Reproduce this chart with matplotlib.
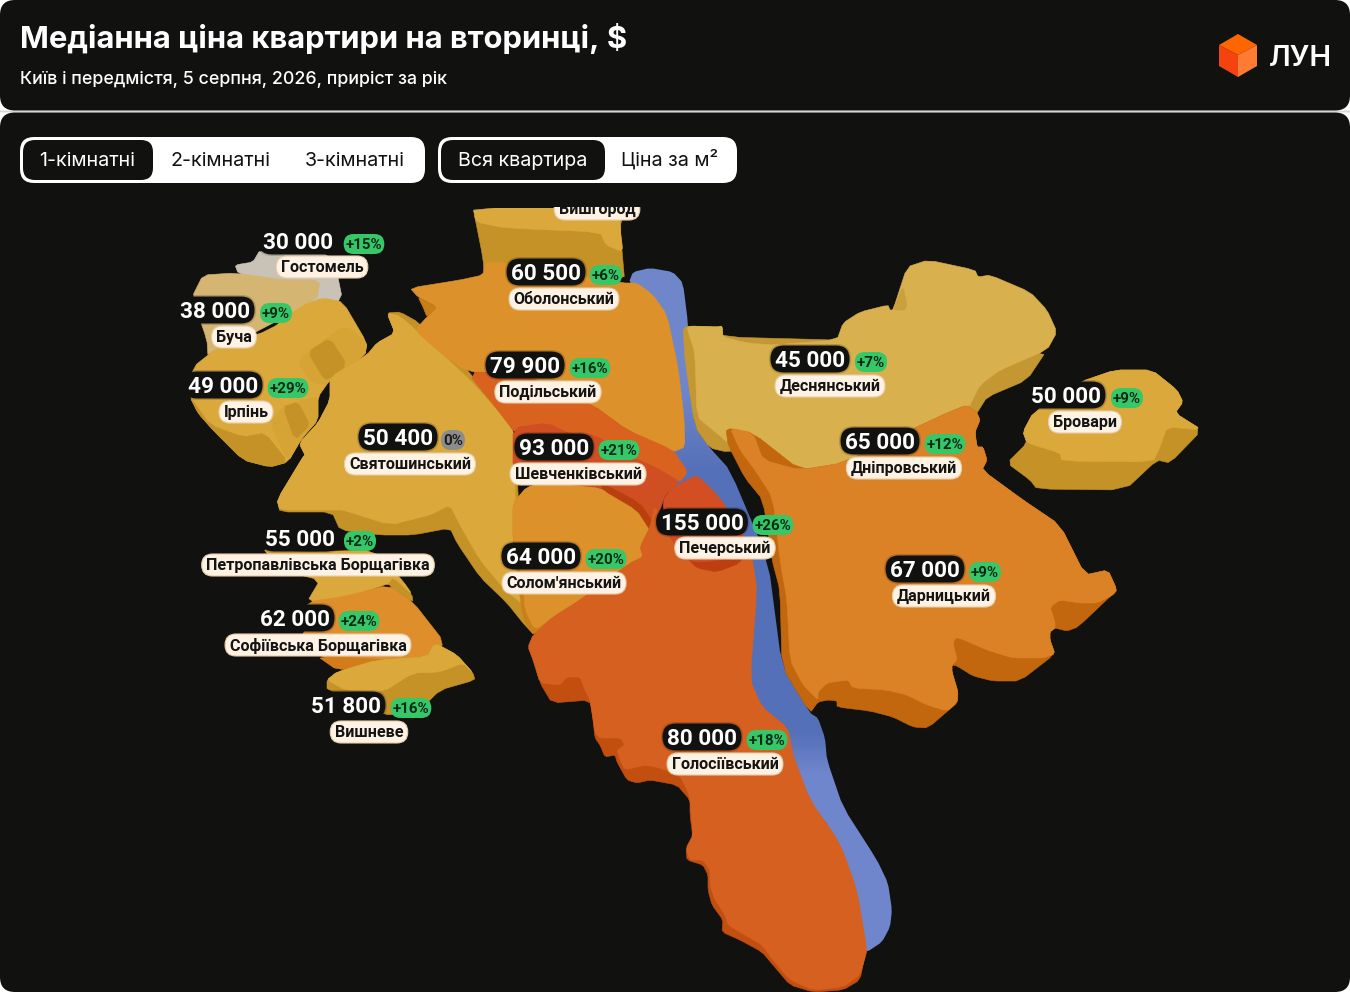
import matplotlib
matplotlib.use("Agg")
import numpy as np
import matplotlib.pyplot as plt
from matplotlib.patches import FancyBboxPatch, Polygon, Rectangle
from matplotlib.colors import LinearSegmentedColormap

# ---------- data ----------
names = ["Гостомель", "Буча", "Ірпінь", "Святошинський", "Оболонський", "Подільський",
         "Шевченківський", "Деснянський", "Дніпровський", "Бровари", "Печерський",
         "Дарницький", "Солом'янський", "Петропавлівська Борщагівка",
         "Софіївська Борщагівка", "Вишневе", "Голосіївський"]
prices = [30000, 38000, 49000, 50400, 60500, 79900, 93000, 45000, 65000, 50000,
          155000, 67000, 64000, 55000, 62000, 51800, 80000]
growth = [15, 9, 29, 0, 6, 16, 21, 7, 12, 9, 26, 9, 20, 2, 24, 16, 18]
price_anchor = [(298, 241), (215, 310), (223, 385), (398, 437), (546, 272), (525, 365),
                (554, 447), (810, 359), (880, 441), (1066, 395), (702, 522), (925, 569),
                (541, 556), (300, 538), (295, 618), (346, 705), (702, 737)]
growth_anchor = [(364, 244), (276, 313), (288, 388), (453, 440), (606, 275), (590, 368),
                 (619, 450), (871, 362), (945, 444), (1127, 398), (773, 525), (985, 572),
                 (606, 559), (360, 541), (359, 621), (411, 708), (767, 740)]
name_anchor = [(322, 267), (234, 337), (246, 412), (410, 464), (564, 299), (548, 392),
               (578, 474), (830, 386), (904, 468), (1085, 422), (725, 548), (944, 596),
               (564, 583), (318, 565), (318, 645), (369, 732), (725, 764)]
title = "Медіанна ціна квартири на вторинці, $"
subtitle = "Київ і передмістя, 5 серпня, 2026, приріст за рік"
room_tabs = ["1-кімнатні", "2-кімнатні", "3-кімнатні"]
unit_tabs = ["Вся квартира", "Ціна за м²"]
hidden_name = "Вишгород"

# ---------- map shapes (image pixels) ----------
river = [(629, 282), (633, 272), (650, 268), (673, 272), (683, 283), (688, 323), (690, 380),
         (695, 427), (710, 448), (730, 470), (768, 560), (782, 667), (810, 713), (818, 718),
         (825, 738), (827, 760), (843, 807), (877, 860), (888, 883), (892, 910), (890, 927),
         (882, 942), (867, 952), (850, 950), (790, 800), (745, 700), (745, 640), (730, 540),
         (665, 490), (660, 400), (650, 310)]
vysh_wall = [(473, 208), (625, 208), (620, 227), (625, 285), (485, 285), (483, 258)]
vysh_top = [(473, 208), (620, 208), (620, 227), (623, 252), (606, 245), (600, 232), (505, 228), (476, 222)]
host_top = [(235, 265), (253, 262), (260, 250), (333, 253), (343, 302), (300, 320), (270, 285), (238, 273)]
bucha_top = [(203, 275), (235, 273), (285, 280), (320, 280), (317, 300), (208, 357), (207, 340), (192, 297)]
irpin_top = [(323, 298), (343, 302), (367, 343), (365, 355), (330, 380), (318, 397), (318, 420),
             (302, 438), (288, 462), (270, 467), (243, 460), (213, 430), (198, 413), (190, 397),
             (193, 367), (217, 348), (270, 330), (303, 305)]
irpin_wall1 = [(190, 397), (210, 425), (243, 437), (265, 433), (288, 462), (270, 467), (243, 460), (213, 430), (198, 413)]
irpin_wall2 = [(298, 363), (308, 352), (345, 325), (367, 343), (365, 355), (330, 380), (325, 385), (312, 382)]
irpin_wall2b = [(308, 352), (330, 338), (347, 365), (327, 380), (322, 376)]
irpin_wall3 = [(270, 423), (283, 407), (303, 400), (318, 397), (318, 420), (302, 438), (288, 462)]
irpin_wall3b = [(283, 407), (298, 402), (310, 425), (295, 440)]
svy_wall = [(387, 313), (400, 312), (418, 322), (470, 372), (515, 433), (523, 590), (535, 636),
            (523, 623), (507, 603), (480, 577), (457, 543), (450, 528), (413, 535), (380, 535),
            (340, 530), (332, 512), (280, 512), (277, 500), (303, 457), (305, 455), (300, 445),
            (302, 440), (318, 423), (330, 400), (330, 377), (367, 355), (377, 343), (395, 333)]
svy_top = [(387, 313), (400, 316), (430, 343), (470, 380), (500, 413), (515, 433), (515, 503),
           (523, 590), (525, 606), (505, 590), (480, 560), (460, 525), (450, 505), (430, 515),
           (390, 525), (343, 510), (332, 510), (280, 510), (277, 500), (303, 457), (305, 455),
           (300, 445), (302, 440), (318, 423), (330, 400), (330, 377), (367, 355), (377, 343), (395, 333)]
des_wall = [(683, 328), (690, 326), (717, 327), (722, 326), (723, 337), (837, 340), (1047, 350),
            (1027, 380), (987, 397), (977, 413), (960, 440), (727, 452), (710, 448), (695, 427), (685, 360)]
des_top = [(687, 328), (690, 326), (717, 327), (722, 326), (723, 337), (747, 343), (773, 345),
           (837, 340), (843, 323), (860, 312), (888, 305), (890, 310), (893, 310), (907, 267),
           (928, 260), (975, 270), (978, 277), (990, 275), (1030, 292), (1047, 310), (1057, 332),
           (1047, 350), (1000, 370), (980, 385), (970, 405), (965, 420), (850, 480), (760, 470),
           (713, 430), (697, 417), (695, 353)]
des_notch = [(893, 310), (903, 286), (907, 305), (905, 310)]
darn_wall = [(726, 428), (753, 433), (800, 470), (843, 463), (917, 427), (947, 413), (967, 405),
             (977, 413), (980, 420), (975, 432), (977, 447), (983, 447), (987, 460), (982, 470),
             (1023, 500), (1060, 525), (1085, 575), (1108, 570), (1117, 590), (1078, 627),
             (1067, 631), (1055, 628), (1050, 632), (1050, 640), (1055, 654), (1020, 681),
             (993, 681), (973, 676), (957, 666), (952, 665), (952, 672), (958, 692), (957, 703),
             (928, 728), (913, 727), (893, 717), (870, 711), (837, 707), (837, 701), (828, 700),
             (818, 702), (810, 713), (782, 667), (780, 590), (772, 560), (763, 500), (745, 478), (728, 445)]
darn_top = [(730, 428), (753, 433), (763, 460), (800, 470), (843, 463), (917, 427), (947, 413),
            (967, 405), (977, 413), (980, 420), (975, 432), (977, 447), (983, 447), (987, 460),
            (982, 470), (1023, 500), (1060, 525), (1085, 575), (1108, 570), (1117, 590),
            (1113, 595), (1097, 603), (1080, 603), (1060, 600), (1050, 607), (1055, 622),
            (1055, 628), (1050, 632), (1050, 640), (1055, 654), (1043, 658), (1013, 658),
            (987, 650), (957, 637), (953, 642), (957, 660), (952, 665), (952, 672), (958, 692),
            (957, 703), (947, 711), (927, 705), (907, 695), (887, 690), (853, 688), (848, 680),
            (840, 681), (827, 683), (818, 692), (818, 700), (803, 685), (790, 660), (787, 600),
            (780, 560), (773, 498), (755, 470), (740, 450)]
brov_wall = [(1023, 432), (1033, 413), (1080, 382), (1115, 370), (1152, 370), (1177, 390), (1183, 402),
             (1175, 413), (1202, 430), (1170, 463), (1157, 460), (1125, 490), (1037, 489), (1030, 480),
             (1007, 463), (1027, 443)]
brov_top = [(1023, 432), (1033, 413), (1080, 382), (1115, 370), (1152, 370), (1177, 390), (1183, 402),
            (1175, 413), (1202, 430), (1167, 427), (1160, 447), (1153, 462), (1062, 461), (1060, 453), (1027, 443)]
solo_wall = [(513, 503), (527, 487), (547, 483), (603, 488), (637, 508), (650, 527), (640, 547),
             (643, 557), (630, 563), (580, 600), (553, 617), (535, 636), (523, 620), (513, 540)]
solo_top = [(513, 503), (527, 487), (547, 483), (603, 488), (637, 508), (650, 527), (640, 547),
            (643, 557), (630, 563), (580, 600), (553, 617), (535, 630), (525, 610), (523, 580), (513, 540)]
obol_top = [(410, 288), (460, 280), (483, 275), (485, 263), (500, 262), (623, 283), (637, 283),
            (653, 295), (667, 315), (678, 367), (684, 417), (685, 447), (673, 452), (627, 430),
            (593, 405), (520, 373), (467, 372), (437, 350), (415, 330), (427, 317), (437, 307), (418, 297)]
obol_notch = [(418, 297), (437, 307), (427, 317), (423, 307)]
podil_top = [(467, 372), (520, 373), (593, 405), (627, 430), (673, 450), (688, 472), (680, 482),
             (667, 477), (647, 465), (600, 472), (545, 440), (515, 433), (500, 413)]
shev_top = [(513, 428), (547, 423), (573, 435), (595, 435), (623, 453), (657, 468), (680, 482),
            (665, 495), (660, 510), (650, 527), (640, 510), (605, 488), (545, 482), (513, 470)]
shev_wall = [(600, 482), (640, 503), (654, 524), (650, 530), (637, 510), (603, 490)]
hol_wall = [(540, 683), (552, 703), (590, 700), (593, 720), (595, 738), (600, 745), (605, 757),
            (615, 755), (617, 762), (627, 780), (637, 783), (650, 780), (677, 785), (690, 800),
            (690, 815), (693, 838), (686, 850), (687, 860), (703, 865), (708, 875), (708, 890),
            (712, 905), (723, 920), (722, 932), (740, 940), (762, 952), (773, 965), (790, 985),
            (813, 992), (843, 990), (860, 980), (865, 955), (820, 800), (600, 690), (575, 668), (540, 675)]
hol_top = [(655, 505), (665, 530), (687, 560), (745, 553), (752, 556), (757, 590), (750, 680), (762, 707),
           (788, 728), (793, 755), (810, 800), (840, 843), (857, 890), (867, 950), (865, 958),
           (860, 975), (843, 987), (813, 990), (790, 980), (773, 960), (762, 945), (745, 935),
           (728, 925), (725, 915), (715, 900), (710, 885), (710, 870), (703, 860), (690, 860),
           (686, 848), (693, 835), (690, 800), (688, 792), (680, 776), (660, 768), (645, 765),
           (625, 770), (620, 760), (617, 750), (625, 745), (620, 738), (600, 738), (595, 733),
           (593, 718), (590, 700), (585, 690), (580, 677), (567, 677), (560, 685), (540, 683),
           (533, 660), (528, 647), (533, 635), (553, 617), (580, 600), (630, 563), (643, 557), (640, 547), (650, 527)]
pech_wall = [(687, 558), (697, 568), (717, 572), (740, 563), (745, 550), (720, 555)]
pech_top = [(663, 500), (670, 490), (683, 482), (697, 475), (720, 498), (743, 533), (745, 553),
            (735, 555), (720, 560), (700, 562), (687, 560), (665, 530)]
petro_top = [(262, 547), (300, 552), (377, 550), (410, 590), (412, 600), (393, 582), (347, 598),
             (307, 602), (320, 580), (280, 570)]
petro_wall = [(388, 585), (393, 578), (412, 595), (413, 602)]
sofi_top = [(307, 602), (347, 596), (388, 585), (413, 602), (445, 643), (427, 657), (400, 662),
            (363, 663), (320, 657), (300, 640), (310, 620)]
sofi_wall = [(317, 656), (337, 670), (373, 666), (395, 660)]
vyn_wall = [(327, 680), (337, 672), (377, 660), (427, 657), (435, 643), (457, 655), (473, 673),
            (475, 680), (440, 690), (417, 713), (383, 715), (365, 700), (327, 690)]
vyn_top = [(327, 680), (337, 672), (377, 660), (427, 657), (435, 643), (457, 655), (473, 673),
           (463, 663), (440, 672), (413, 673), (383, 692), (345, 690)]
logo_top = [(1238, 34), (1257, 45), (1238, 55), (1219, 45)]
logo_left = [(1219, 45), (1238, 55), (1238, 77), (1219, 66)]
logo_right = [(1238, 55), (1257, 45), (1257, 66), (1238, 77)]

# ---------- figure ----------
plt.rcParams["font.family"] = ["Roboto", "DejaVu Sans"]
fig = plt.figure(figsize=(13.5, 9.92), dpi=100, facecolor="#ffffff")
ax = fig.add_axes([0, 0, 1, 1])
ax.set_xlim(0, 1350)
ax.set_ylim(992, 0)
ax.axis("off")
BG = "#111110"


def rbox(x0, y0, x1, y1, r, fc, ec="none", lw=0, z=1, alpha=None):
    p = FancyBboxPatch((x0 + r, y0 + r), x1 - x0 - 2 * r, y1 - y0 - 2 * r,
                       boxstyle=f"round,pad={r},rounding_size={r}", fc=fc, ec=ec, lw=lw,
                       zorder=z, alpha=alpha)
    ax.add_patch(p)
    return p


def soften(points, k=0.15):
    """Cut each polygon corner slightly so borders read as curves rather than facets."""
    a = np.asarray(points, float)
    b = np.roll(a, -1, axis=0)
    out = np.empty((2 * len(a), 2))
    out[0::2] = (1 - k) * a + k * b
    out[1::2] = k * a + (1 - k) * b
    return out


rbox(0, 0, 1350, 110.5, 15, BG, z=1)
rbox(0, 112.5, 1350, 992, 15, BG, z=1)
rbox(0, 110.6, 1350, 112.4, 0.1, "#d8d6d0", z=0.5)

ax.text(20, 35.5, title, color="white", fontsize=22.3, fontweight="bold", family="Inter", va="center_baseline", ha="left", zorder=5)
ax.text(20, 78, subtitle, color="white", fontsize=12.85, fontweight="medium", family="Inter", va="center_baseline", ha="left", zorder=5)

for poly, col in [(logo_top, "#ff6600"), (logo_left, "#f4430f"), (logo_right, "#ff7a33")]:
    ax.add_patch(Polygon(poly, closed=True, fc=col, ec="none", zorder=5))
ax.text(1300, 55, "ЛУН", color="white", fontsize=21, fontweight="semibold", family="Inter", ha="center", va="center_baseline", zorder=5)

# tabs
rbox(20, 137, 425, 183, 14, "#ffffff", z=3)
rbox(438, 137, 737, 183, 14, "#ffffff", z=3)
rbox(23, 140, 153, 180, 12, BG, z=4)
rbox(441, 140, 605, 180, 12, BG, z=4)
for label, cx, col in zip(room_tabs, [87.5, 220, 354.5], ["white", BG, BG]):
    ax.text(cx, 166, label, color=col, fontsize=14.2, family="Inter", ha="center", va="baseline", zorder=5)
for label, cx, col in zip(unit_tabs, [522.5, 670], ["white", BG]):
    ax.text(cx, 166, label, color=col, fontsize=14.2, family="Inter", ha="center", va="baseline", zorder=5)

# map
clip = Rectangle((0, 208), 1350, 784, transform=ax.transData)
cmap = LinearSegmentedColormap.from_list("r", [(0, "#6f86ca"), (0.18, "#6f86ca"), (0.3, "#5470b8"),
                                               (0.68, "#5470b8"), (0.74, "#7086cc"), (1, "#7086cc")])
river_poly = Polygon(soften(river), closed=True, fc="none", ec="none")
ax.add_patch(river_poly)
im = ax.imshow(np.linspace(0, 1, 256).reshape(-1, 1), cmap=cmap, vmin=0, vmax=1,
               extent=(600, 900, 953, 265), aspect="auto", zorder=2)
im.set_clip_path(river_poly)
ax.set_xlim(0, 1350)
ax.set_ylim(992, 0)

WALL = "#c49226"
TOP = "#dba93b"
layers = [
    (vysh_wall, WALL), (vysh_top, TOP),
    (host_top, "#c9c2b6"), (bucha_top, "#d4b572"),
    (irpin_top, TOP), (irpin_wall1, WALL), (irpin_wall2, "#d6a335"), (irpin_wall2b, WALL),
    (irpin_wall3, "#d6a335"), (irpin_wall3b, WALL),
    (des_wall, "#c49732"), (des_top, "#d8b04e"), (des_notch, "#c9a03b"),
    (darn_wall, "#c2670e"), (darn_top, "#dc8226"),
    (brov_wall, WALL), (brov_top, TOP),
    (svy_wall, WALL), (svy_top, TOP),
    (solo_wall, "#c98018"), (solo_top, "#dc912a"),
    (obol_top, "#dc912a"), (obol_notch, "#c77f16"),
    (podil_top, "#d9621f"), (shev_top, "#cf4f22"), (shev_wall, "#b8400f"),
    (hol_wall, "#c24f10"), (hol_top, "#d66020"),
    (pech_wall, "#bd3f10"), (pech_top, "#d34e22"),
    (petro_top, TOP), (petro_wall, WALL),
    (sofi_top, "#de8f2c"), (sofi_wall, "#d47c1c"),
    (vyn_wall, WALL), (vyn_top, TOP),
]
for i, (poly, col) in enumerate(layers):
    p = Polygon(soften(poly), closed=True, fc=col, ec=col, lw=0.4, zorder=3 + i * 0.01)
    ax.add_patch(p)
    p.set_clip_path(clip)

# labels
fig.canvas.draw()
rend = fig.canvas.get_renderer()


def pill(cx, cy, txt, fs, tc, fc, padx, h, weight, z, ec="none", halo=None):
    t = ax.text(cx, cy - 0.7, txt, color=tc, fontsize=fs, fontweight=weight, ha="center", va="center_baseline",
                zorder=z + 0.2)
    w = t.get_window_extent(rend).width
    x0, x1 = cx - w / 2 - padx, cx + w / 2 + padx
    y0, y1 = cy - h / 2, cy + h / 2
    if halo:
        rbox(x0 - 1.5, y0 - 1.5, x1 + 1.5, y1 + 1.5, (h + 3) / 2 - 0.1, halo, z=z - 0.1, alpha=0.18)
    box = rbox(x0, y0, x1, y1, h / 2 - 0.1, fc, ec=ec, lw=0.8 if ec != "none" else 0, z=z)
    return t, box


def fmt(v):
    return f"{v:,}".replace(",", " ")


for i, n in enumerate(names):
    z = 10 + i * 0.01
    pill(*price_anchor[i], fmt(prices[i]), 16.2, "white", BG, 4.5, 27, "bold", z, halo=BG)
    g = growth[i]
    gtxt = f"+{g}%" if g else "0%"
    pill(*growth_anchor[i], gtxt, 10.9, "#0c2a17" if g else "#1c1c1c", "#35c768" if g else "#8c8c8c", 2, 20, "bold", z)
    pill(*name_anchor[i], n, 11.6, "#141414", "#fdf2e3", 4.5, 22, "bold", z + 0.5, ec="#e6cdaa")

t, box = pill(597, 209, hidden_name, 11.6, "#141414", "#fdf2e3", 4.5, 22, "bold", 9, ec="#e6cdaa")
hid = Rectangle((500, 206.5), 200, 20, transform=ax.transData)
box.set_clip_path(hid)
t.set_clip_path(hid)

fig.savefig("out.png", dpi=100, facecolor=fig.get_facecolor())
